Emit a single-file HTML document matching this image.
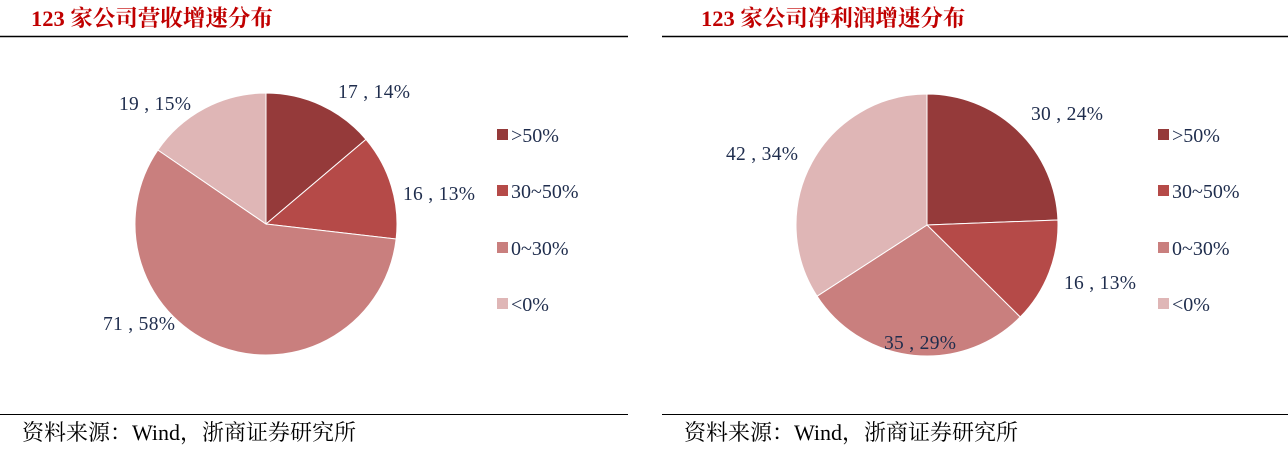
<!DOCTYPE html>
<html><head><meta charset="utf-8"><style>
body{margin:0;background:#fff;width:1288px;height:445px;overflow:hidden}
svg text{font-family:"Liberation Serif","Noto Serif CJK SC",serif}
</style></head><body>
<svg id="s" width="1288" height="445" xmlns="http://www.w3.org/2000/svg">
<g id="pies"></g>
<text x="31" y="26" font-size="22.5" font-weight="bold" fill="#c00000">123 家公司营收增速分布</text>
<text x="701" y="26" font-size="22.5" font-weight="bold" fill="#c00000">123 家公司净利润增速分布</text>
<line x1="0" y1="36.5" x2="628" y2="36.5" stroke="#000" stroke-width="1.5"/>
<line x1="662" y1="36.5" x2="1288" y2="36.5" stroke="#000" stroke-width="1.5"/>
<line x1="0" y1="414.5" x2="628" y2="414.5" stroke="#000" stroke-width="1"/>
<line x1="662" y1="414.5" x2="1288" y2="414.5" stroke="#000" stroke-width="1"/>
<text x="22" y="440" font-size="22" fill="#000">资料来源：Wind，浙商证券研究所</text>
<text x="684" y="440" font-size="22" fill="#000">资料来源：Wind，浙商证券研究所</text>
<g font-size="19.5" fill="#1f2d4d">
<text x="338" y="98" textLength="72">17 , 14%</text>
<text x="403" y="200" textLength="72">16 , 13%</text>
<text x="103" y="330" textLength="72">71 , 58%</text>
<text x="119" y="110" textLength="72">19 , 15%</text>
<text x="1031" y="120" textLength="72">30 , 24%</text>
<text x="1064" y="289" textLength="72">16 , 13%</text>
<text x="884" y="349" textLength="72">35 , 29%</text>
<text x="726" y="160" textLength="72">42 , 34%</text>
</g>
<g id="leg" font-size="20" fill="#1f2d4d"></g>
</svg>
<script>
var C=["#953a3a","#b54a48","#c97f7e","#dfb6b6"],L=[">50%","30~50%","0~30%","<0%"];
var s=document.getElementById("pies"),ns="http://www.w3.org/2000/svg";
function pie(cx,cy,r,v){var t=0,sum=v.reduce(function(a,b){return a+b},0);
v.forEach(function(x,i){var a0=t/sum*2*Math.PI;t+=x;var a1=t/sum*2*Math.PI;
var p=document.createElementNS(ns,"path");
var d="M"+cx+","+cy+" L"+(cx+r*Math.sin(a0))+","+(cy-r*Math.cos(a0))+" A"+r+","+r+" 0 "+((a1-a0)>Math.PI?1:0)+" 1 "+(cx+r*Math.sin(a1))+","+(cy-r*Math.cos(a1))+" Z";
p.setAttribute("d",d);p.setAttribute("fill",C[i]);p.setAttribute("stroke","#fff");p.setAttribute("stroke-width","1");s.appendChild(p);});}
pie(266,224,131,[17,16,71,19]);
pie(927,225,131,[30,16,35,42]);
var g=document.getElementById("leg"),h="";
[497,1158].forEach(function(x){[135,191,248,304].forEach(function(y,i){
h+='<rect x="'+x+'" y="'+(y-6)+'" width="11" height="11" fill="'+C[i]+'"/><text x="'+(x+14)+'" y="'+(y+7)+'">'+L[i].replace("<","&lt;").replace(">","&gt;")+'</text>';});});
g.innerHTML=h;
</script>
</body></html>
